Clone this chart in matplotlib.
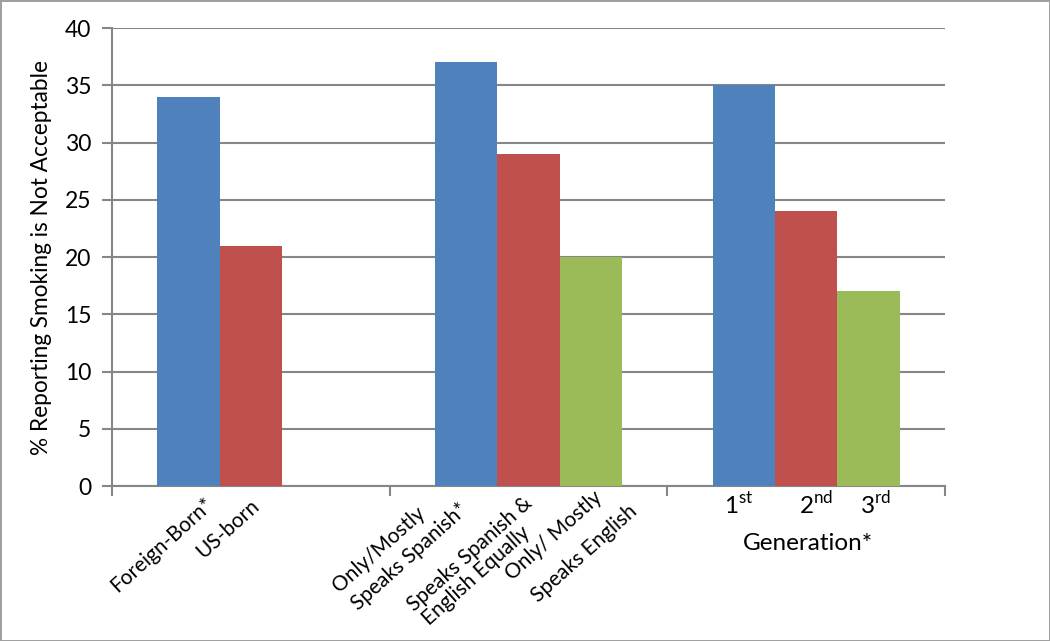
import numpy as np
import matplotlib
matplotlib.use("Agg")
import matplotlib.pyplot as plt
import matplotlib.transforms as mtrans

plt.rcParams['font.family'] = ['Lato', 'DejaVu Sans']
plt.rcParams['mathtext.fontset'] = 'custom'
plt.rcParams['mathtext.rm'] = 'Lato'

# data
groups = ['Nativity', 'Language', 'Generation*']
blue_vals = [34, 37, 35]
red_vals = [21, 29, 24]
green_vals = [np.nan, 20, 17]

# each bar label as a list of lines
bar_labels = [
    [["Foreign-Born*"], ["US-born"], None],
    [["Only/Mostly", "Speaks Spanish*"], ["Speaks Spanish &", "English Equally"],
     ["Only/ Mostly", "Speaks English"]],
]
gen_labels = [r"1$^{\mathrm{st}}$", r"2$^{\mathrm{nd}}$", r"3$^{\mathrm{rd}}$"]
yticks = [0, 5, 10, 15, 20, 25, 30, 35, 40]

colors = ['#4F81BD', '#C0504D', '#9BBB59']
grid_c = '#868686'

fig = plt.figure(figsize=(10.5, 6.41), dpi=100)
fig.patch.set_edgecolor('#a0a0a0')
fig.patch.set_linewidth(2)
ax = fig.add_axes([0.1067, 0.2418, 0.7933, 0.7145])

x = np.arange(len(groups)) + 0.5
w = 0.2246
for k, vals in enumerate([blue_vals, red_vals, green_vals]):
    ax.bar(x + (k - 1) * w, vals, width=w, color=colors[k], zorder=3)

ax.set_xlim(0, 3)
ax.set_ylim(0, 40)
ax.set_yticks(yticks)
ax.yaxis.grid(True, color=grid_c, linewidth=1.5, zorder=0)
ax.set_xticks([0, 1, 2, 3])
ax.set_xticklabels([])
ax.tick_params(axis='x', length=7, width=1.5, color=grid_c, direction='out')
ax.tick_params(axis='y', length=7, width=1.5, color=grid_c, direction='out',
               labelsize=16.5, pad=8)
for s in ['top', 'right']:
    ax.spines[s].set_visible(False)
for s in ['left', 'bottom']:
    ax.spines[s].set_color(grid_c)
    ax.spines[s].set_linewidth(1.5)

ax.set_ylabel('% Reporting Smoking is Not Acceptable', fontsize=16.3)
ax.yaxis.set_label_coords(-0.072, 0.5)

# rotated category labels; each line anchored at its top-right end,
# offsets in pixels (dx, dy) from the bar centre on the x axis
offsets = [[[(15, -8)], [(-1, -10)], None],
           [[(-51, -17), (-8, -13)], [(-6, -7), (-8, -36)],
            [(2, -1), (37, -15)]]]
for g in range(2):
    for k in range(3):
        lines = bar_labels[g][k]
        if lines is None:
            continue
        for line, (dx, dy) in zip(lines, offsets[g][k]):
            tr = mtrans.blended_transform_factory(ax.transData, ax.transAxes) + \
                mtrans.ScaledTranslation(dx / 100, dy / 100, fig.dpi_scale_trans)
            ax.text(x[g] + (k - 1) * w, 0, line, transform=tr, rotation=42,
                    rotation_mode='anchor', ha='right', va='top', fontsize=15)

tr = mtrans.blended_transform_factory(ax.transData, ax.transAxes)
gen_dx = [-5, 10, 7]
for k, lab in enumerate(gen_labels):
    t = tr + mtrans.ScaledTranslation(gen_dx[k] / 100, 0, fig.dpi_scale_trans)
    ax.text(x[2] + (k - 1) * w, -0.061, lab, transform=t, ha='center',
            va='baseline', fontsize=17.5)
ax.text(x[2] + 0.007, -0.14, groups[2], transform=tr, ha='center', va='baseline',
        fontsize=17.5)

fig.savefig('out.png', dpi=100, edgecolor=fig.get_edgecolor())
